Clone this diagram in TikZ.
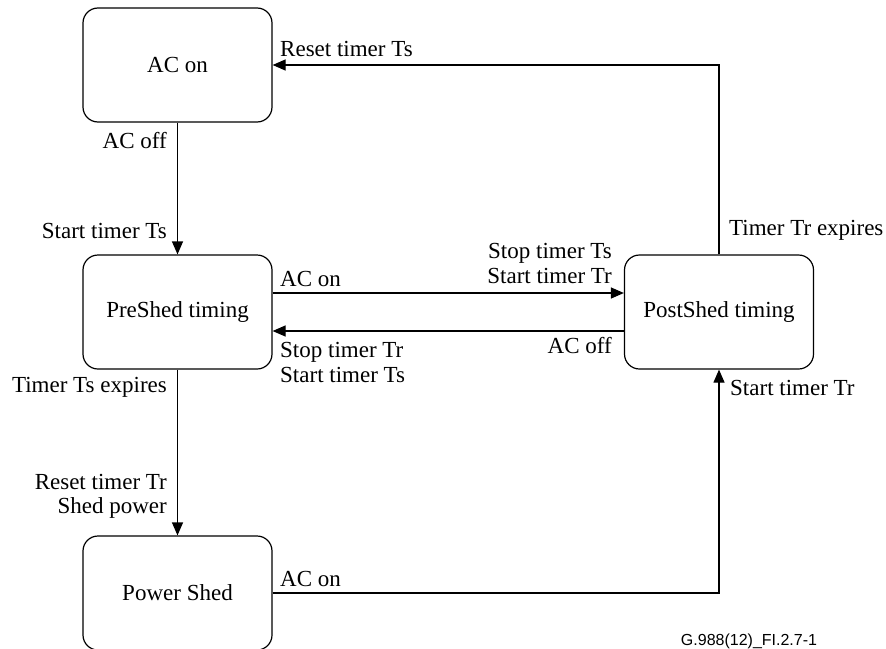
\documentclass[tikz,border=0pt]{standalone}
\usepackage{fontspec}
\setmainfont{Liberation Serif}
\newfontfamily\labsans{Liberation Sans}
\usetikzlibrary{arrows.meta}
\begin{document}
\begin{tikzpicture}[x=1pt,y=-1pt,
  statebox/.style={draw, line width=1.2pt, rounded corners=15pt, minimum width=189pt, minimum height=114pt, inner sep=0pt, font=\fontsize{23}{25}\selectfont},
  lab/.style={inner sep=0pt, font=\fontsize{23}{25}\selectfont},
  conn/.style={line width=1.2pt, -{Triangle[length=13pt,width=11pt]}}]
\useasboundingbox (0,0) rectangle (886,648);
\node[statebox] (acon) at (177.5,65) {AC on};
\node[statebox] (pre) at (177.5,312) {PreShed timing};
\node[statebox] (post) at (719,312) {PostShed timing};
\node[statebox] (shed) at (177.5,593) {Power Shed};

\draw[conn] (acon.south) -- (pre.north);
\draw[conn] ([yshift=19pt]pre.east) -- ([yshift=19pt]post.west);
\draw[conn] ([yshift=-19pt]post.east -| post.west) -- ([yshift=-19pt]pre.east);
\draw[conn] (pre.south) -- (shed.north);
\draw[conn] (shed.east) -| (post.south);
\draw[conn] (post.north) |- (acon.east);

\node[lab, anchor=base east] (l1) at (167,148) {AC off};
\node[lab, anchor=base east] (l2) at (167,238) {Start timer Ts};
\node[lab, anchor=base west] (l3) at (280,56) {Reset timer Ts};
\node[lab, anchor=base west] (l4) at (280,286) {AC on};
\node[lab, anchor=base east] (l5) at (612,258) {Stop timer Ts};
\node[lab, anchor=base east] (l6) at (612,283) {Start timer Tr};
\node[lab, anchor=base east] (l7) at (612,353) {AC off};
\node[lab, anchor=base west] (l8) at (280,357) {Stop timer Tr};
\node[lab, anchor=base west] (l9) at (280,382) {Start timer Ts};
\node[lab, anchor=base east] (l10) at (167,392) {Timer Ts expires};
\node[lab, anchor=base east] (l11) at (167,489) {Reset timer Tr};
\node[lab, anchor=base east] (l12) at (167,513) {Shed power};
\node[lab, anchor=base west] (l13) at (729,235) {Timer Tr expires};
\node[lab, anchor=base west] (l14) at (730,395) {Start timer Tr};
\node[lab, anchor=base west] (l15) at (280,586) {AC on};
\node[inner sep=0pt, anchor=base, font=\labsans\fontsize{16}{18}\selectfont] (fig) at (749,645) {G.988(12)\_FI.2.7-1};
\end{tikzpicture}
\end{document}
